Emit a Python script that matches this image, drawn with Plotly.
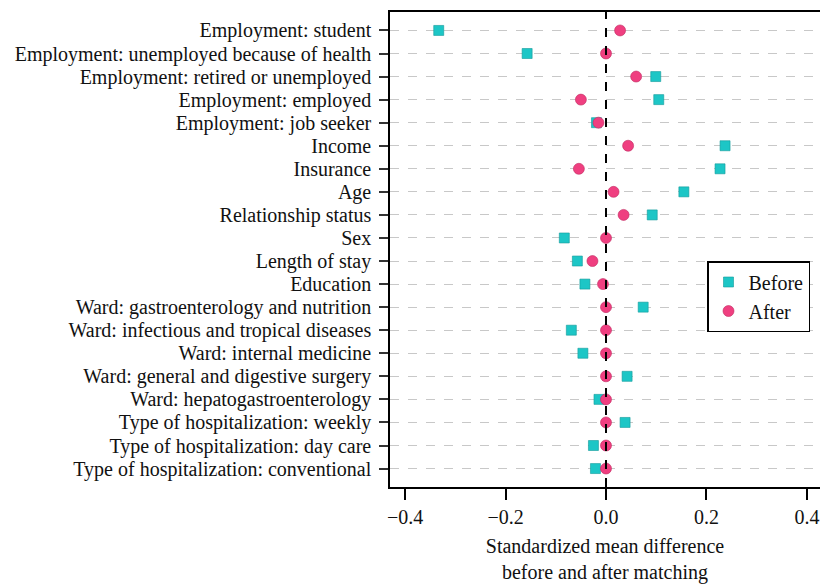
import plotly.graph_objects as go

covariates = [
    "Employment: student",
    "Employment: unemployed because of health",
    "Employment: retired or unemployed",
    "Employment: employed",
    "Employment: job seeker",
    "Income",
    "Insurance",
    "Age",
    "Relationship status",
    "Sex",
    "Length of stay",
    "Education",
    "Ward: gastroenterology and nutrition",
    "Ward: infectious and tropical diseases",
    "Ward: internal medicine",
    "Ward: general and digestive surgery",
    "Ward: hepatogastroenterology",
    "Type of hospitalization: weekly",
    "Type of hospitalization: day care",
    "Type of hospitalization: conventional",
]
smd_before = [-0.333, -0.157, 0.099, 0.105, -0.019, 0.237, 0.227, 0.155, 0.092, -0.083,
              -0.057, -0.042, 0.074, -0.069, -0.046, 0.042, -0.014, 0.038, -0.025, -0.021]
smd_after = [0.028, 0.0, 0.060, -0.050, -0.015, 0.044, -0.054, 0.015, 0.035, 0.0,
             -0.027, -0.006, 0.0, 0.0, 0.0, 0.0, 0.0, 0.0, 0.0, 0.0]
x_ticks = [-0.4, -0.2, 0.0, 0.2, 0.4]
x_tick_labels = ["\u22120.4", "\u22120.2", "0.0", "0.2", "0.4"]

FONT = "Liberation Serif"
L, T, B = 390, 12, 99
PW, PH = 820 - L, 586 - T - B

fig = go.Figure()
fig.add_trace(go.Scatter(
    x=smd_before, y=covariates, mode="markers", name="Before",
    marker=dict(symbol="square", size=10, color="#1DC6C6",
                line=dict(color="#139a9a", width=0.6)),
))
fig.add_trace(go.Scatter(
    x=smd_after, y=covariates, mode="markers", name="After",
    marker=dict(symbol="circle", size=11, color="#EF3F80",
                line=dict(color="#c02a60", width=0.6)),
))

fig.add_shape(type="line", x0=0, x1=0, xref="x", y0=0, y1=1, yref="paper",
              line=dict(color="black", width=2, dash="dash"), layer="above")

fig.update_layout(
    width=820, height=586,
    margin=dict(l=L, r=0, t=T, b=B, autoexpand=False),
    plot_bgcolor="white", paper_bgcolor="white",
    font=dict(family=FONT, size=20, color="#111111"),
    showlegend=True,
    legend=dict(
        x=(707 - L) / PW, y=1 - (261 - T) / PH, xanchor="left", yanchor="top",
        bordercolor="black", borderwidth=1.5, bgcolor="white",
        font=dict(family=FONT, size=20, color="#111111"),
        tracegroupgap=0, itemwidth=30,
    ),
    xaxis=dict(
        range=[-0.43, 0.426], tickvals=x_ticks, ticktext=x_tick_labels,
        showgrid=False, zeroline=False, automargin=False,
        showline=True, linecolor="black", linewidth=1.5, mirror=True,
        ticks="outside", ticklen=11, tickwidth=1.5, tickcolor="black",
        tickfont=dict(family=FONT, size=20),
        title=dict(text="Standardized mean difference<br>before and after matching",
                   font=dict(family=FONT, size=20), standoff=12),
    ),
    yaxis=dict(
        type="category", categoryorder="array", categoryarray=covariates,
        tickmode="array", tickvals=covariates,
        range=[19.8, -0.8], automargin=False,
        showgrid=True, gridcolor="#c8c8c8", griddash="dash", gridwidth=1.2,
        zeroline=False,
        showline=True, linecolor="black", linewidth=1.5, mirror=True,
        ticks="outside", ticklen=9, tickwidth=1.5, tickcolor="#333333",
        ticklabelstandoff=4,
        tickfont=dict(family=FONT, size=20),
    ),
)

fig.write_html("out.html", config={"displayModeBar": False},
               post_script="document.body.style.margin='0';")
